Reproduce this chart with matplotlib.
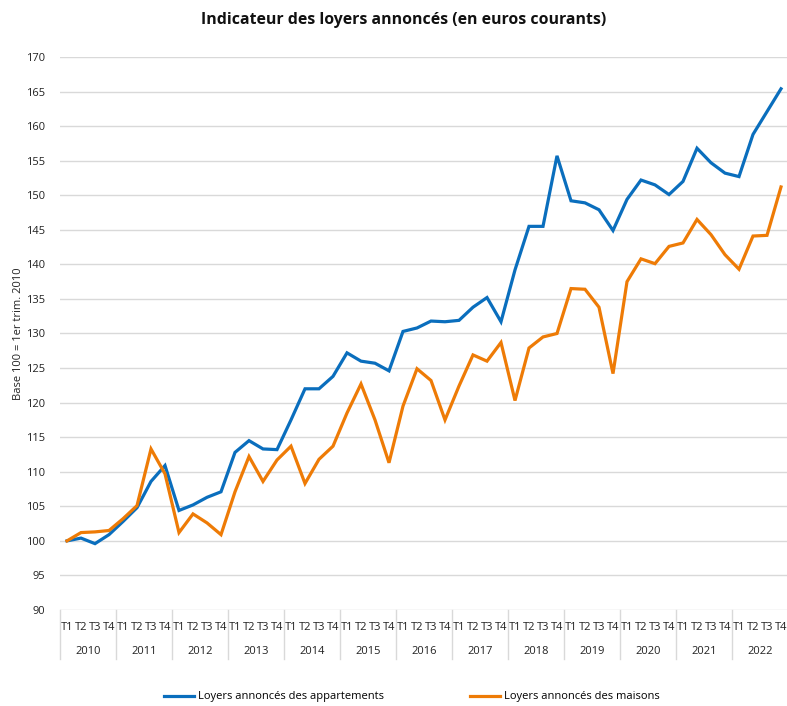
import matplotlib
matplotlib.use("Agg")
import matplotlib.pyplot as plt
import matplotlib.transforms as mtransforms
from matplotlib.lines import Line2D

plt.rcParams['font.family'] = ['Open Sans', 'DejaVu Sans']

years = [str(y) for y in range(2010, 2023)]
quarters = ["T1", "T2", "T3", "T4"]

appartements = [
    100.0, 100.4, 99.6, 100.9, 102.8, 104.8, 108.6, 110.9,
    104.4, 105.2, 106.3, 107.1, 112.8, 114.5, 113.3, 113.2,
    117.5, 122.0, 122.0, 123.8, 127.2, 126.0, 125.7, 124.6,
    130.3, 130.8, 131.8, 131.7, 131.9, 133.8, 135.2, 131.7,
    139.2, 145.5, 145.5, 155.7, 149.2, 148.9, 147.9, 144.9,
    149.4, 152.2, 151.5, 150.1, 152.0, 156.8, 154.7, 153.2,
    152.7, 158.8, 162.1, 165.4,
]
maisons = [
    100.0, 101.2, 101.3, 101.5, 103.2, 105.1, 113.3, 109.7,
    101.2, 103.9, 102.6, 100.9, 107.1, 112.2, 108.6, 111.7,
    113.7, 108.3, 111.8, 113.7, 118.5, 122.7, 117.5, 111.3,
    119.5, 124.9, 123.2, 117.5, 122.4, 126.9, 126.0, 128.7,
    120.3, 127.9, 129.5, 130.0, 136.5, 136.4, 133.8, 124.2,
    137.5, 140.8, 140.1, 142.6, 143.1, 146.5, 144.3, 141.4,
    139.3, 144.1, 144.2, 151.2,
]

labels_series = ["Loyers annoncés des appartements", "Loyers annoncés des maisons"]
colors = ["#0a6ebd", "#ee7b06"]
title = "Indicateur des loyers annoncés (en euros courants)"
ylabel = "Base 100 = 1er trim. 2010"

W, H = 787, 706
fig = plt.figure(figsize=(W / 100, H / 100), dpi=100)
ax = fig.add_axes([60 / W, (H - 610) / H, 728 / W, (610 - 57) / H])

n = len(appartements)
x = list(range(n))
ax.plot(x, appartements, color=colors[0], lw=2.3, solid_joinstyle='miter', label=labels_series[0], zorder=3)
ax.plot(x, maisons, color=colors[1], lw=2.3, solid_joinstyle='miter', label=labels_series[1], zorder=3)

ax.set_xlim(-0.5, n - 0.5)
ax.set_ylim(90, 170)
ax.set_yticks(range(90, 171, 5))
ax.yaxis.grid(True, color='#d9d9d9', lw=1)
ax.set_axisbelow(True)
for s in ax.spines.values():
    s.set_visible(False)
ax.tick_params(axis='y', length=0, pad=11, labelsize=8, colors='#222222')
ax.set_xticks(x)
ax.set_xticklabels([quarters[i % 4] for i in x])
ax.tick_params(axis='x', length=0, pad=9, labelsize=8, colors='#222222')
ax.set_ylabel(ylabel, fontsize=8, color='#222222', labelpad=1)

trans = mtransforms.blended_transform_factory(ax.transData, ax.transAxes)
axh = 610 - 57
sep_bottom = -(659 - 610) / axh
for k in range(len(years) + 1):
    xs = -0.5 + 4 * k
    ax.add_line(Line2D([xs, xs], [0, sep_bottom], transform=trans, color='#d9d9d9', lw=1, clip_on=False))
for k, yr in enumerate(years):
    ax.text(1.5 + 4 * k, -(651 - 610) / axh, yr, transform=trans, ha='center', va='center',
            fontsize=8, color='#222222')

fig.text(404 / W, 1 - 20 / H, title, ha='center', va='center', fontsize=11.4, fontweight='bold', color='#111111')

fig.legend(loc='center', bbox_to_anchor=(412 / W, 1 - 697 / H), ncol=2, frameon=False,
           fontsize=8, handlelength=2.7, handletextpad=0.35, columnspacing=7.8)

fig.savefig("out.png", dpi=100)
